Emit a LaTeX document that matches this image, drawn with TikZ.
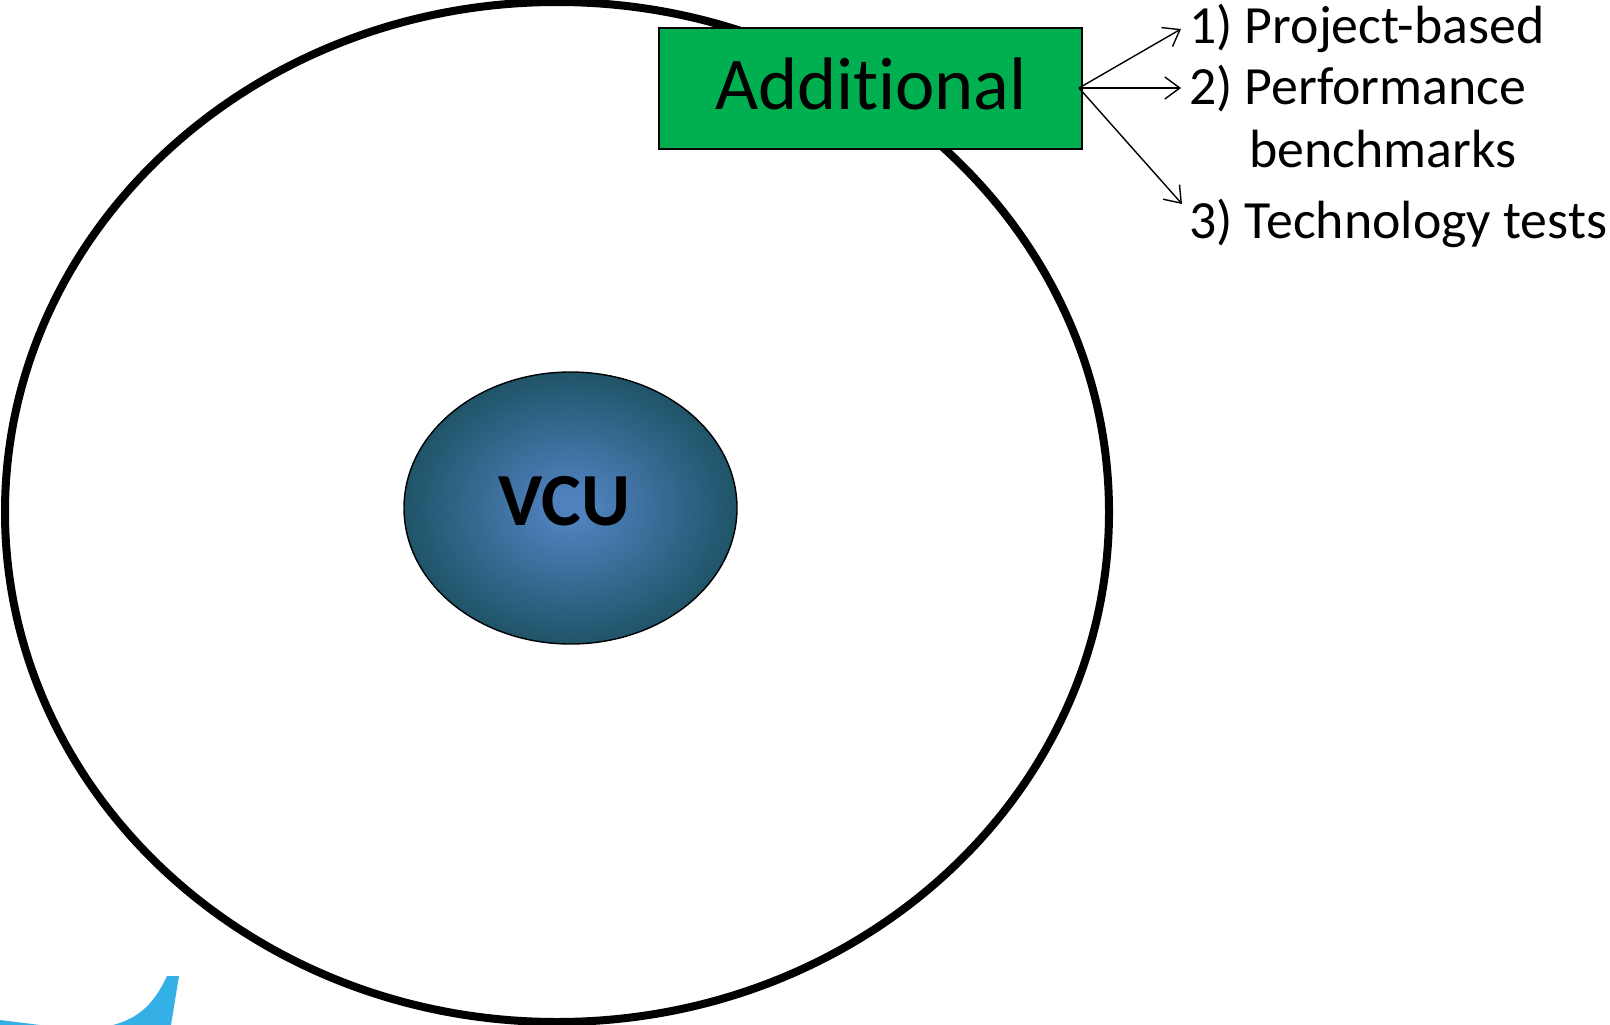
\documentclass[tikz,border=0pt]{standalone}
\usepackage{fontspec}
\setmainfont{Carlito}[Ligatures=NoCommon]
\usetikzlibrary{arrows.meta,shapes.geometric}
\definecolor{boxgreen}{HTML}{00B050}
\definecolor{swoosh}{HTML}{35B0E6}
\definecolor{vcuin}{HTML}{4F81BD}
\definecolor{vcuout}{HTML}{1F5468}
\pgfdeclareradialshading{vcushade}{\pgfpoint{0bp}{0bp}}{color(0bp)=(vcuin); color(3bp)=(vcuin); color(25bp)=(vcuout); color(50bp)=(vcuout); color(100bp)=(vcuout)}
\tikzset{
 listtext/.style={anchor=base west,font=\fontsize{53.8}{60}\selectfont,inner sep=0pt,text=black},
 linkarrow/.style={draw=black,line width=1.4pt,-{Straight Barb[length=15pt,width=22pt,line width=1.4pt]}},
 ringline/.style={draw=black,line width=8pt},
 vcublob/.style={ellipse,draw=black,line width=1.4pt,shading=vcushade,minimum width=333pt,minimum height=272pt,inner sep=0pt},
 addbox/.style={rectangle,draw=black,line width=1.6pt,fill=boxgreen,minimum width=423pt,minimum height=121pt,inner sep=0pt}
}
\begin{document}
\begin{tikzpicture}[x=1pt,y=-1pt]
\useasboundingbox (0,0) rectangle (1610,1025);
\fill[white] (0,0) rectangle (1610,1025);
\begin{scope}
\clip (0,0) rectangle (1610,1025);
\fill[swoosh] (113,1025) .. controls (140,1018) and (155,1002) .. (167,976) -- (179,976) -- (171,1025) -- cycle;
\fill[swoosh] (0,1020) -- (40,1025) -- (0,1025) -- cycle;
\draw[ringline] (557,512) ellipse [x radius=552,y radius=510];
\end{scope}
\node[vcublob] (vcu) at (570.5,508) {};
\node[font=\fontsize{75}{80}\selectfont\bfseries,inner sep=0pt] (vcutext) at (564.5,501.5) {VCU};
\node[addbox] (additional) at (870.5,88.5) {};
\node[font=\fontsize{74.5}{80}\selectfont,inner sep=0pt] (addtext) at (871,84) {Additional};
\coordinate (src) at (1079,88);
\coordinate (endone) at (1181,29);
\coordinate (endtwo) at (1181,88);
\coordinate (endthree) at (1182,204);
\draw[linkarrow] (src) -- (endone);
\draw[linkarrow] (src) -- (endtwo);
\draw[linkarrow] (src) -- (endthree);
\node[listtext] (itemone) at (1189,44) {1) Project-based};
\node[listtext] (itemtwo) at (1189,104) {2) Performance};
\node[listtext] (itemtwob) at (1249,167) {benchmarks};
\node[listtext] (itemthree) at (1189,238) {3) Technology tests};
\end{tikzpicture}
\end{document}
